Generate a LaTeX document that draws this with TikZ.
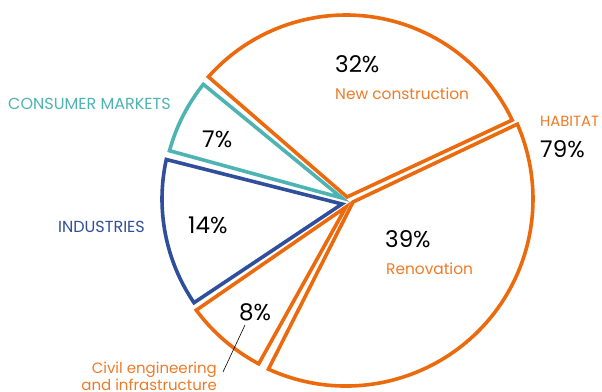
\documentclass[tikz,border=0pt]{standalone}
\usepackage{fontspec}
\setmainfont{Poppins}
\usetikzlibrary{calc}
\definecolor{hab}{HTML}{EC6A0E}
\definecolor{habtxt}{HTML}{EF7A26}
\definecolor{con}{HTML}{4DB3B3}
\definecolor{ind}{HTML}{2F4F9C}
\begin{document}
\begin{tikzpicture}[x=1pt,y=1pt,
  slice/.style={line width=3.6pt, line join=miter, miter limit=20},
  pct/.style={font=\fontsize{23}{23}\selectfont, text=black, inner sep=0pt, anchor=base west},
  lab/.style={font=\fontsize{15.4}{17}\selectfont, inner sep=0pt, anchor=base west},
  labcaps/.style={font=\fontsize{16}{17}\selectfont, inner sep=0pt, anchor=base west}]
\useasboundingbox (0,0) rectangle (602,391);
\coordinate (O) at (346,192);
% slices: apex -- arc point -- arc -- cycle
\draw[slice, hab] (347,194) -- ($(O)+(25.4:184)$) arc[start angle=25.4, end angle=138.4, radius=184] -- cycle;
\draw[slice, con] (342,193) -- ($(O)+(141.2:183)$) arc[start angle=141.2, end angle=164.7, radius=183] -- cycle;
\draw[slice, ind] (342,187) -- ($(O)+(167.6:184)$) arc[start angle=167.6, end angle=214.3, radius=184] -- cycle;
\draw[slice, hab] (346,184) -- ($(O)+(216.6:186.5)$) arc[start angle=216.6, end angle=242.1, radius=186.5] -- cycle;
\draw[slice, hab] (353,189) -- ($(O)+(-114.5:187)$) arc[start angle=-114.5, end angle=23.6, radius=187] -- cycle;
% texts
\node[pct] (p32) at (335,318) {32\%};
\node[lab, text=habtxt] (lnew) at (335,291) {New construction};
\node[labcaps, text=habtxt, font=\fontsize{14.8}{17}\selectfont] (lhab) at (540,264) {HABITAT};
\node[pct] (p79) at (540,233) {79\%};
\node[labcaps, text=con] (lcon) at (8,281) {CONSUMER MARKETS};
\node[pct] (p7) at (202,243) {7\%};
\node[labcaps, text=ind] (lind) at (58,158) {INDUSTRIES};
\node[pct] (p14) at (188,157) {14\%};
\node[pct] (p39) at (385,143) {39\%};
\node[lab, text=habtxt] (lren) at (386,116) {Renovation};
\node[pct] (p8) at (239,71) {8\%};
\node[font=\fontsize{15}{17}\selectfont, text=habtxt, inner sep=0pt, align=right, anchor=north east] (lciv) at (217,29) {Civil engineering\\and infrastructure};
\coordinate (lineA) at (245,66);
\coordinate (lineB) at (223,19);
\draw[line width=0.6pt] (lineA) -- (lineB);
\end{tikzpicture}
\end{document}
